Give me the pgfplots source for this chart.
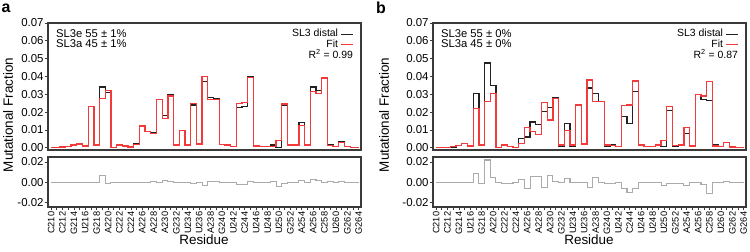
\documentclass[border=0pt]{standalone}
\usepackage{pgfplots}
\pgfplotsset{compat=1.18}
\usepackage{pgfplotstable}
\usepackage{fontspec}
\setmainfont{Liberation Sans}
\definecolor{fitred}{HTML}{F23A3A}
\definecolor{datablk}{HTML}{222222}
\definecolor{framegray}{HTML}{3A3A3A}
\definecolor{resgray}{HTML}{ABABAB}

% panel a: residue, data, fit, residual
\pgfplotstableread{
r d f res
210 0 0 0
211 0 0 0
212 0.0003 0.0003 0
213 0.0006 0.0006 0
214 0.0015 0.0015 0
215 0.002 0.002 0
216 0.001 0.001 0
217 0.023 0.023 0
218 0.0015 0.0015 0
219 0.034 0.0275 0.0065
220 0.031 0.032 -0.0013
221 0.0002 0.0002 0
222 0.0015 0.0015 -0.0003
223 0.001 0.001 -0.0002
224 0.0003 0.0003 0
225 0.002 0.0018 0.0002
226 0.012 0.0122 -0.0005
227 0.009 0.0092 -0.0002
228 0.0085 0.008 0.0005
229 0.027 0.027 0
230 0.018 0.0165 0.0015
231 0.0295 0.029 0.0005
232 0.0015 0.0015 -0.0005
233 0.0095 0.0098 -0.0003
234 0.0015 0.0015 -0.0005
235 0.024 0.025 -0.0015
236 0.002 0.002 -0.0003
237 0.037 0.040 -0.003
238 0.028 0.027 0.001
239 0.0275 0.027 0.0005
240 0.0017 0.0017 0.0002
241 0.0015 0.0015 0
242 0.0005 0.0006 -0.0002
243 0.0225 0.025 -0.0025
244 0.023 0.0255 -0.0025
245 0.040 0.0395 0.0005
246 0.0008 0.001 -0.0002
247 0.0005 0.0005 0
248 0.0005 0.0005 0
249 0.0015 0.0008 0.0007
250 0.0001 0.004 -0.0039
251 0.0235 0.0245 -0.001
252 0.0015 0.0015 0
253 0.0015 0.0015 0
254 0.014 0.0125 0.0015
255 0.0015 0.0015 0
256 0.034 0.0315 0.0025
257 0.032 0.0305 0.0015
258 0.0393 0.0392 0.0001
259 0.0015 0.0012 0.0003
260 0.0005 0.0006 -0.0001
261 0.0035 0.003 0.0005
262 0.0005 0.0005 0
263 0.0001 0.0001 0
264 0 0 0
}\dataA

% panel b: residue, data, fit, residual
\pgfplotstableread{
r d f res
210 0 0 0
211 0 0 0
212 0.0001 0.0001 0
213 0.0003 0.0006 -0.0003
214 0.0012 0.0012 -0.0005
215 0.0025 0.0025 0
216 0.001 0.001 0
217 0.0305 0.022 0.009
218 0.0015 0.0015 -0.0008
219 0.0475 0.026 0.022
220 0.035 0.0305 0.005
221 0.0002 0.0002 0
222 0.0015 0.0015 -0.001
223 0.0008 0.0008 -0.0008
224 0.0001 0.0001 -0.0005
225 0.005 0.0025 0.003
226 0.006 0.0115 -0.006
227 0.0145 0.009 0.0055
228 0.013 0.0075 0.0055
229 0.0205 0.0255 -0.0055
230 0.0225 0.0155 0.007
231 0.028 0.0275 0.001
232 0.0008 0.0015 -0.0005
233 0.0135 0.0095 0.004
234 0.001 0.0015 -0.0005
235 0.024 0.024 -0.0005
236 0.002 0.002 -0.0005
237 0.0335 0.038 -0.0055
238 0.0305 0.026 0.005
239 0.026 0.026 -0.0005
240 0.001 0.0015 -0.0015
241 0.0015 0.0012 -0.001
242 0.0005 0.0005 0
243 0.0175 0.0235 -0.006
244 0.0135 0.024 -0.0105
245 0.0315 0.0375 -0.006
246 0.0015 0.0015 0
247 0.0008 0.0008 0
248 0.0008 0.0008 0
249 0.0015 0.0015 -0.0005
250 0.0005 0.004 -0.003
251 0.021 0.023 -0.0015
252 0.001 0.0012 -0.001
253 0.0015 0.0015 -0.001
254 0.008 0.0115 -0.0035
255 0.001 0.001 0
256 0.030 0.030 0
257 0.027 0.029 -0.002
258 0.0265 0.037 -0.011
259 0.0015 0.001 0
260 0.0005 0.0005 0
261 0.003 0.003 0.0003
262 0.0003 0.0003 0
263 0 0 0
264 0 0 0
}\dataB

\newcommand{\blkline}{\textcolor{datablk}{\rule[0.32ex]{12bp}{1.1bp}}}
\newcommand{\redline}{\textcolor{fitred}{\rule[0.32ex]{12bp}{1.1bp}}}

\pgfplotsset{
  common/.style={
    scale only axis, width=313bp,
    xmin=209.45, xmax=264.4,
    axis line style={framegray, line width=1.4bp},
    tick style={framegray, line width=0.7bp},
    tick align=outside, ytick pos=left,
    major tick length=3bp, minor tick length=3bp,
    scaled y ticks=false,
    /pgf/number format/assume math mode=true,
    yticklabel style={font=\fontsize{11.5}{12}\selectfont,
      /pgf/number format/fixed, /pgf/number format/fixed zerofill,
      /pgf/number format/precision=2, inner sep=1.2bp},
  },
  toppanel/.style={common, height=127bp,
    ymin=-0.0013, ymax=0.07,
    ytick={0,0.01,0.02,0.03,0.04,0.05,0.06,0.07},
    xtick=\empty,
  },
  botpanel/.style={common, height=50bp,
    ymin=-0.0245, ymax=0.025,
    ytick={-0.02,0,0.02},
    xtick={210,212,...,264}, minor xtick={211,213,...,263},
    xtick pos=left,
    xticklabels={C210,C212,G214,U216,G218,A220,C222,C224,A226,A228,A230,G232,U234,U236,A238,G240,U242,C244,U246,U248,U250,G252,A254,A256,C258,U260,G262,G264},
    xticklabel style={rotate=90, anchor=east, font=\fontsize{9.3}{10}\selectfont, inner sep=1.5bp},
  },
  datastyle/.style={datablk, line width=1.3bp, const plot mark mid, no markers},
  fitstyle/.style={fitred, line width=1.3bp, const plot mark mid, no markers},
  resstyle/.style={resgray, line width=1.1bp, const plot mark mid, no markers},
}

\begin{document}
\begin{tikzpicture}
\useasboundingbox (0,0) rectangle (750bp,252bp);

% ---------- panel a ----------
\begin{axis}[toppanel, at={(48bp,229bp)}, anchor=north west]
  \addplot[datastyle] table[x=r, y=d] {\dataA};
  \addplot[fitstyle] table[x=r, y=f] {\dataA};
  \node[anchor=north east, align=right, font=\fontsize{10.5}{10.5}\selectfont, inner sep=0pt]
    at (rel axis cs:0.975,0.955) {SL3 distal \blkline\\[0.3bp]Fit \redline\\[0.8bp]R\textsuperscript{2} = 0.99};
  \node[anchor=north west, align=left, font=\fontsize{11.3}{10.5}\selectfont, inner sep=0pt]
    at (rel axis cs:0.025,0.95) {SL3e 55 ± 1\%\\SL3a 45 ± 1\%};
\end{axis}
\begin{axis}[botpanel, at={(48bp,95bp)}, anchor=north west]
  \addplot[resstyle] table[x=r, y=res] {\dataA};
\end{axis}

% ---------- panel b ----------
\begin{axis}[toppanel, at={(433bp,229bp)}, anchor=north west]
  \addplot[datastyle] table[x=r, y=d] {\dataB};
  \addplot[fitstyle] table[x=r, y=f] {\dataB};
  \node[anchor=north east, align=right, font=\fontsize{10.5}{10.5}\selectfont, inner sep=0pt]
    at (rel axis cs:0.975,0.955) {SL3 distal \blkline\\[0.3bp]Fit \redline\\[0.8bp]R\textsuperscript{2} = 0.87};
  \node[anchor=north west, align=left, font=\fontsize{11.3}{10.5}\selectfont, inner sep=0pt]
    at (rel axis cs:0.025,0.95) {SL3e 55 ± 0\%\\SL3a 45 ± 0\%};
\end{axis}
\begin{axis}[botpanel, at={(433bp,95bp)}, anchor=north west]
  \addplot[resstyle] table[x=r, y=res] {\dataB};
\end{axis}

% labels
\node[font=\bfseries\fontsize{16}{16}\selectfont, anchor=center] at (6bp,244bp) {a};
\node[font=\bfseries\fontsize{16}{16}\selectfont, anchor=center] at (381bp,244bp) {b};
\node[rotate=90, font=\fontsize{13.5}{14}\selectfont] at (8bp,137bp) {Mutational Fraction};
\node[rotate=90, font=\fontsize{13.5}{14}\selectfont] at (384bp,137bp) {Mutational Fraction};
\node[font=\fontsize{13.5}{14}\selectfont] at (204bp,12bp) {Residue};
\node[font=\fontsize{13.5}{14}\selectfont] at (589bp,12bp) {Residue};
\end{tikzpicture}
\end{document}
